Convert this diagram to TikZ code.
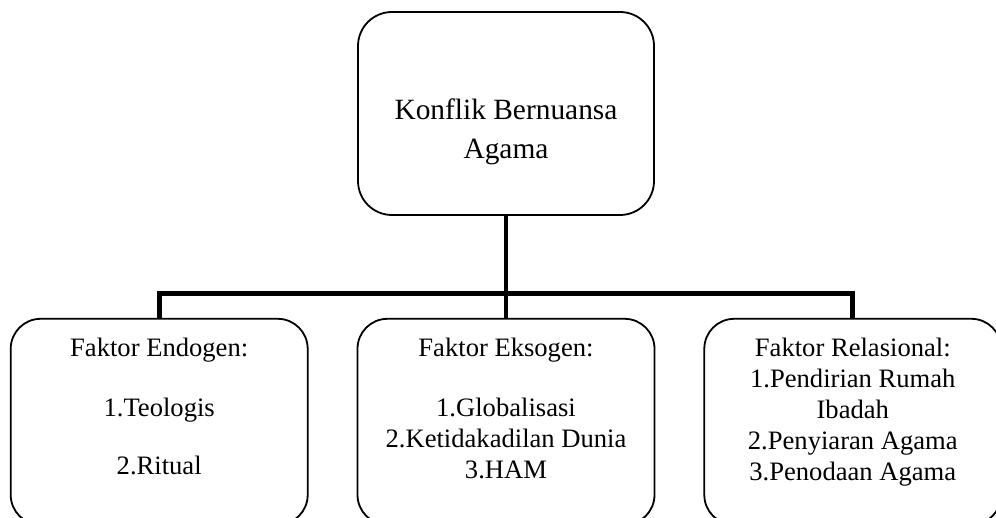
\documentclass[tikz,border=0pt]{standalone}
\usepackage{fontspec}
\setmainfont{Liberation Serif}
\usetikzlibrary{positioning}

\begin{document}
\begin{tikzpicture}[node distance=24pt,
  box/.style={draw, line width=0.9pt, rounded corners=15pt, minimum width=148.5pt, minimum height=103pt, inner sep=0pt},
  boxtext/.style={align=center, inner sep=0pt, font=\fontsize{13.3}{15.5}\selectfont},
  link/.style={line width=2.4pt}]
\useasboundingbox (0,0) rectangle (498pt,-259pt);
\node (konflik) [box, rounded corners=17pt, minimum width=148pt, minimum height=101.5pt] at (253pt,-56.75pt) {};
\node (konfliktext) [boxtext, font=\fontsize{14.7}{19.5}\selectfont, below=43.5pt of konflik.north] {Konflik Bernuansa\\Agama};
\node (eksogen) [box, below=51pt of konflik] {};
\node (endogen) [box, left=of eksogen] {};
\node (relasional) [box, right=of eksogen] {};
\node (endogentext) [boxtext, below=9.9pt of endogen.north] {Faktor Endogen:\\[14.5pt]1.Teologis\\[13.5pt]2.Ritual};
\node (eksogentext) [boxtext, below=9.9pt of eksogen.north] {Faktor Eksogen:\\[14.5pt]1.Globalisasi\\2.Ketidakadilan Dunia\\3.HAM};
\node (relasionaltext) [boxtext, below=9.9pt of relasional.north] {Faktor Relasional:\\1.Pendirian Rumah\\Ibadah\\2.Penyiaran Agama\\3.Penodaan Agama};
\draw[link] (konflik) -- (eksogen);
\draw[link] (endogen.north) -- ++(0,12.25pt) -| (relasional.north);
\end{tikzpicture}
\end{document}
